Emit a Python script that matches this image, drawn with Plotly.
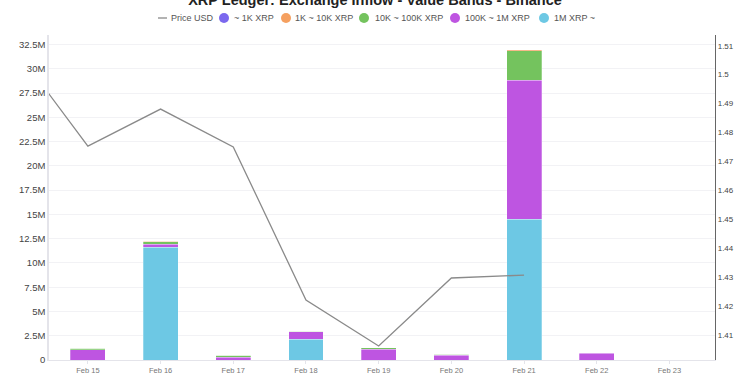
import plotly.graph_objects as go

# ---- data ----
bar_dates = ["2026-02-15", "2026-02-16", "2026-02-17", "2026-02-18", "2026-02-19",
             "2026-02-20", "2026-02-21", "2026-02-22", "2026-02-23"]
band_1m_plus = [0, 11.6e6, 0, 2.15e6, 0, 0, 14.5e6, 0, 0]
band_100k_1m = [1.05e6, 0.3e6, 0.3e6, 0.75e6, 1.1e6, 0.5e6, 14.34e6, 0.7e6, 0]
band_10k_100k = [0.17e6, 0.3e6, 0.2e6, 0.05e6, 0.15e6, 0.07e6, 3.02e6, 0.04e6, 0]
band_1k_10k = [0.01e6, 0.02e6, 0.01e6, 0.01e6, 0.01e6, 0.01e6, 0.08e6, 0.01e6, 0]
band_1k = [0.004e6, 0.005e6, 0.003e6, 0.004e6, 0.004e6, 0.003e6, 0.01e6, 0.004e6, 0]

price_dates = ["2026-02-14", "2026-02-15", "2026-02-16", "2026-02-17", "2026-02-18",
               "2026-02-19", "2026-02-20", "2026-02-21"]
price_usd = [1.509, 1.4753, 1.4881, 1.4750, 1.4221, 1.4062, 1.4297, 1.4307]

left_ticks = [i * 2.5e6 for i in range(14)]
left_labels = ["0"] + [f"{v/1e6:g}M" for v in left_ticks[1:]]
right_ticks = [round(1.41 + i * 0.01, 2) for i in range(11)]

band_names = ["1M XRP ~", "100K ~ 1M XRP", "10K ~ 100K XRP", "1K ~ 10K XRP", "~ 1K XRP"]
band_values = [band_1m_plus, band_100k_1m, band_10k_100k, band_1k_10k, band_1k]
band_colors = ["#6DC8E4", "#BE55E1", "#74C35E", "#F5A060", "#7B68EE"]

FONT = "Liberation Sans, Arial, Helvetica, sans-serif"
W, H = 750, 375
ML, MR, MT, MB = 49, 35, 35, 15
PW, PH = W - ML - MR, H - MT - MB


def px_x(px):
    return (px - ML) / PW


def px_y(py):
    return (H - MB - py) / PH


fig = go.Figure()
for name, vals, col in zip(band_names, band_values, band_colors):
    fig.add_trace(go.Bar(
        x=bar_dates, y=vals, name=name, marker_color=col,
        marker_line=dict(color="rgba(255,255,255,0.45)", width=0.6),
        width=0.48 * 86400000, showlegend=False, yaxis="y",
    ))

fig.add_trace(go.Scatter(
    x=price_dates, y=price_usd, name="Price USD", mode="lines",
    line=dict(color="#8a8a8a", width=1.3), yaxis="y2", showlegend=False,
))

# ---- custom compact legend (circle markers, as in the reference) ----
legend_y = 18
shapes = [dict(type="line", xref="paper", yref="paper",
               x0=px_x(158), x1=px_x(167), y0=px_y(legend_y), y1=px_y(legend_y),
               line=dict(color="#8a8a8a", width=1.3))]
annotations = [dict(text="Price USD", xref="paper", yref="paper",
                    x=px_x(169), y=px_y(legend_y), xanchor="left", yanchor="middle",
                    showarrow=False, font=dict(size=9, color="#555", family=FONT))]
legend_items = [("~ 1K XRP", 224, 232), ("1K ~ 10K XRP", 286, 293),
                ("10K ~ 100K XRP", 364, 373), ("100K ~ 1M XRP", 455, 463),
                ("1M XRP ~", 544, 552)]
color_of = dict(zip(band_names, band_colors))
r = 5
for name, cx, tx in legend_items:
    shapes.append(dict(type="circle", xref="paper", yref="paper",
                       x0=px_x(cx - r), x1=px_x(cx + r),
                       y0=px_y(legend_y + r), y1=px_y(legend_y - r),
                       fillcolor=color_of[name], line=dict(width=0)))
    annotations.append(dict(text=name, xref="paper", yref="paper",
                            x=px_x(tx), y=px_y(legend_y), xanchor="left", yanchor="middle",
                            showarrow=False, font=dict(size=9, color="#555", family=FONT)))

fig.update_layout(
    width=W, height=H,
    margin=dict(l=ML, r=MR, t=MT, b=MB),
    paper_bgcolor="white", plot_bgcolor="white",
    barmode="stack",
    showlegend=False,
    font=dict(family=FONT, color="#444"),
    title=dict(text="<b>XRP Ledger: Exchange Inflow - Value Bands - Binance</b>",
               x=0.5, xanchor="center", y=1.0, yanchor="middle",
               font=dict(size=14.5, color="#222", family=FONT)),
    shapes=shapes,
    annotations=annotations,
    xaxis=dict(
        type="date",
        range=["2026-02-14 11:10", "2026-02-23 15:02"],
        tickvals=bar_dates, tickformat="%b %d",
        tickfont=dict(size=7.5, color="#777"),
        showline=True, linecolor="#e4e4ea", linewidth=1,
        ticks="outside", ticklen=3, tickcolor="#e4e4ea",
        showgrid=False, automargin=False,
    ),
    yaxis=dict(
        range=[0, 33.48e6], tickvals=left_ticks, ticktext=left_labels,
        tickfont=dict(size=9.5, color="#444"),
        showline=True, linecolor="#e4e4ea", linewidth=1.5,
        showgrid=True, gridcolor="#f2f2f5", zeroline=False,
        automargin=False, ticklen=0,
    ),
    yaxis2=dict(
        overlaying="y", side="right",
        range=[1.40136, 1.5137], tickvals=right_ticks,
        ticktext=[f"{v:g}" for v in right_ticks],
        tickfont=dict(size=8, color="#444"),
        showline=True, linecolor="#666", linewidth=1.2,
        showgrid=False, zeroline=False, automargin=False,
    ),
)

fig.write_html("out.html", config={"displayModeBar": False},
               post_script="document.body.style.margin='0';")
